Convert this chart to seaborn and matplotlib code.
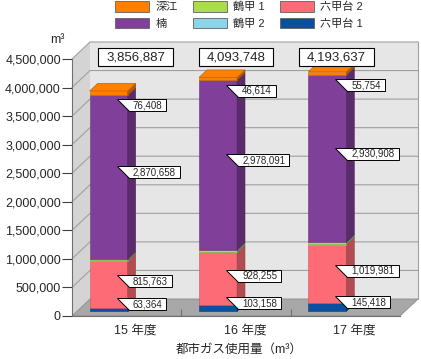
import numpy as np
import matplotlib
matplotlib.use('Agg')
import matplotlib.pyplot as plt
import seaborn as sns
from matplotlib.patches import Polygon, Rectangle, Patch
from matplotlib.transforms import IdentityTransform, ScaledTranslation
from matplotlib.ticker import StrMethodFormatter

# ==================== DONNÉES ====================
years = ['15 年度', '16 年度', '17 年度']
rokkodai1 = [63364, 103158, 145418]
rokkodai2 = [815763, 928255, 1019981]
tsurukabuto2 = [10694, 12630, 14576]   # estimé (bande très fine)
tsurukabuto1 = [20000, 25000, 27000]   # estimé (bande très fine)
kusunoki = [2870658, 2978091, 2930908]
fukae = [76408, 46614, 55754]
totals = [3856887, 4093748, 4193637]

series_names = ['六甲台 1', '六甲台 2', '鶴甲 2', '鶴甲 1', '楠', '深江']
series_vals = [rokkodai1, rokkodai2, tsurukabuto2, tsurukabuto1, kusunoki, fukae]
series_cols = ['#0b4f9f', '#fd6c76', '#8dd4e8', '#aadd4e', '#803f99', '#ff8000']
labelled = ['六甲台 1', '六甲台 2', '楠', '深江']
nudge = {'六甲台 1': 5, '六甲台 2': 3, '楠': 5, '深江': -12}

yticks = np.arange(0, 4500001, 500000)

# ==================== STYLE ====================
sns.set_style('white')
plt.rcParams['font.family'] = ['Liberation Sans', 'Noto Sans CJK JP']

W, H, DPI = 421, 359, 100
fig = plt.figure(figsize=(W / DPI, H / DPI), dpi=DPI)
ax = fig.add_axes([72 / W, (H - 316) / H, 328 / W, 257 / H])
ax.set_xlim(-0.5, 2.5)
ax.set_ylim(0, 4500000)
ax.patch.set_visible(False)

DX, DY = 18, 17  # profondeur 3D en pixels


def disp(x, y, d):
    px, py = ax.transData.transform((x, y))
    return (px + DX * d, py + DY * d)


def poly(pts, fc, ec='none', lw=0.0, z=1):
    p = Polygon(pts, closed=True, facecolor=fc, edgecolor=ec, linewidth=lw,
                transform=IdentityTransform(), zorder=z, clip_on=False)
    ax.add_patch(p)
    return p


def darker(c, f):
    r, g, b = matplotlib.colors.to_rgb(c)
    return (r * f, g * f, b * f)


x0, x1 = ax.get_xlim()
ymax = yticks[-1]

# murs
poly([disp(x0, 0, 1), disp(x1, 0, 1), disp(x1, ymax, 1), disp(x0, ymax, 1)], '#e6e6e6', z=0)
poly([disp(x0, 0, 0), disp(x0, ymax, 0), disp(x0, ymax, 1), disp(x0, 0, 1)], '#d4d4d4', z=0)
poly([disp(x0, 0, 0), disp(x1, 0, 0), disp(x1, 0, 1), disp(x0, 0, 1)], '#a8a8a8', '#8a8a8a', 0.6, z=0.5)

for v in yticks[1:]:
    pts = np.array([disp(x0, v, 0), disp(x0, v, 1), disp(x1, v, 1)])
    ax.plot(pts[:, 0], pts[:, 1], color='#a0a0a0', lw=0.8, transform=IdentityTransform(),
            zorder=0.2, clip_on=False)
edge = np.array([disp(x1, 0, 1), disp(x1, ymax, 1)])
ax.plot(edge[:, 0], edge[:, 1], color='#a0a0a0', lw=0.8, transform=IdentityTransform(),
        zorder=0.2, clip_on=False)

# ==================== BARRES 3D ====================
w = 38 / 109.33
off = -0.21
d_front, d_back = 0.28, 0.72
shift = ScaledTranslation(DX * d_front / DPI, DY * d_front / DPI, fig.dpi_scale_trans)

renderer = fig.canvas.get_renderer()
for i in range(len(years)):
    bx = i + off
    bottom = 0
    z = 2 + i
    segs = []
    for name, vals, col in zip(series_names, series_vals, series_cols):
        v = vals[i]
        bars = ax.bar(bx, v, w, bottom=bottom, color=col, edgecolor=darker(col, 0.8),
                      linewidth=0.4, zorder=z)
        bars[0].set_transform(ax.transData + shift)
        bars[0].set_clip_on(False)
        xr = bx + w / 2
        poly([disp(xr, bottom, d_front), disp(xr, bottom + v, d_front),
              disp(xr, bottom + v, d_back), disp(xr, bottom, d_back)],
             darker(col, 0.7), darker(col, 0.6), 0.4, z=z)
        segs.append((name, bottom, v))
        bottom += v
    top_col = series_cols[-1]
    poly([disp(bx - w / 2, bottom, d_front), disp(bx + w / 2, bottom, d_front),
          disp(bx + w / 2, bottom, d_back), disp(bx - w / 2, bottom, d_back)],
         top_col, darker(top_col, 0.75), 0.5, z=z)

    # étiquettes de valeur
    xr_px = disp(bx + w / 2, 0, d_front)[0]
    for name, b, v in segs:
        if name not in labelled:
            continue
        yc = disp(bx, b + v / 2, d_front)[1] + nudge[name]
        t = ax.text(xr_px + 5, yc, f'{v:,}', fontsize=7, ha='left', va='center',
                    transform=IdentityTransform(), zorder=20, clip_on=False)
        tw = t.get_window_extent(renderer).width
        poly([(xr_px - 11, yc + 6), (xr_px + 5 + tw + 4, yc + 6),
              (xr_px + 5 + tw + 4, yc - 6), (xr_px + 1, yc - 6)],
             'white', 'black', 0.7, z=19)

    # totaux
    tx = disp(i * 0.92 + 0.08, 0, 0)[0]
    ty = H - 57
    t = ax.text(tx, ty, f'{totals[i]:,}', fontsize=9.5, ha='center', va='center',
                transform=IdentityTransform(), zorder=20, clip_on=False)
    tw = t.get_window_extent(renderer).width
    ax.add_patch(Rectangle((tx - tw / 2 - 8, ty - 9), tw + 16, 18, facecolor='white',
                           edgecolor='black', linewidth=0.8, transform=IdentityTransform(),
                           zorder=19, clip_on=False))

    # catégories
    cx = disp(i, 0, 0.5)[0]
    ax.text(cx, H - 331, years[i], fontsize=9, ha='center', va='center',
            transform=IdentityTransform(), clip_on=False)

# ==================== AXES ====================
ax.set_yticks(yticks)
ax.yaxis.set_major_formatter(StrMethodFormatter('{x:,.0f}'))
ax.tick_params(axis='y', direction='out', length=7, width=0.8, color='#404040',
               labelsize=9, pad=1, left=True)
ax.set_xticks([0.5, 1.5])
ax.set_xticklabels([])
ax.tick_params(axis='x', direction='in', length=5, width=0.8, color='#707070', bottom=True)
for s in ['top', 'right']:
    ax.spines[s].set_visible(False)
ax.spines['left'].set_color('#707070')
ax.spines['bottom'].set_color('#707070')
ax.spines['left'].set_zorder(1)
ax.spines['bottom'].set_zorder(1)

ax.text(65, H - 40, 'm³', fontsize=9, ha='right', va='center', transform=IdentityTransform())
ax.text(239, H - 350, '都市ガス使用量（m³）', fontsize=9, ha='center', va='center',
        transform=IdentityTransform())

# légende
order = [5, 4, 3, 2, 1, 0]
handles = [Patch(facecolor=series_cols[k], edgecolor='#606060', linewidth=0.6) for k in order]
labels = [series_names[k] for k in order]
fig.legend(handles, labels, loc='upper left', bbox_to_anchor=(114 / W, 1.0), ncol=3,
           frameon=False, fontsize=8, handlelength=3.06, handleheight=1.08,
           handletextpad=0.55, columnspacing=1.4, labelspacing=0.5, borderpad=0.1,
           borderaxespad=0)

fig.savefig('out.png', dpi=DPI)
